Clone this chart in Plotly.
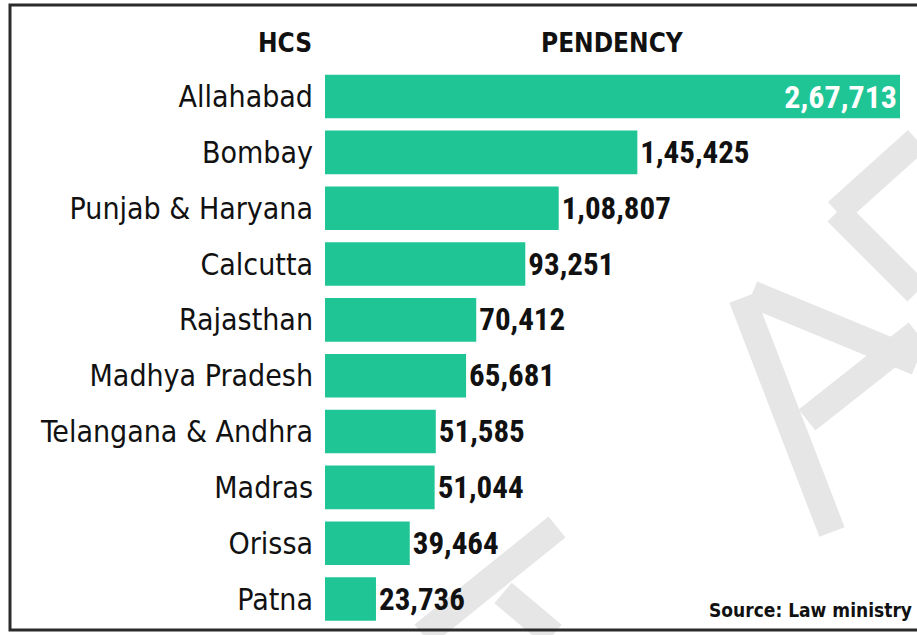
import plotly.graph_objects as go

# ---- data ----
courts = ["Allahabad", "Bombay", "Punjab & Haryana", "Calcutta", "Rajasthan",
          "Madhya Pradesh", "Telangana & Andhra", "Madras", "Orissa", "Patna"]
pendency = [267713, 145425, 108807, 93251, 70412, 65681, 51585, 51044, 39464, 23736]
header_left = "HCS"
header_right = "PENDENCY"
source_text = "Source: Law ministry"


def indian_format(n):
    s = str(n)
    if len(s) <= 3:
        return s
    last3 = s[-3:]
    rest = s[:-3]
    groups = []
    while len(rest) > 2:
        groups.insert(0, rest[-2:])
        rest = rest[:-2]
    if rest:
        groups.insert(0, rest)
    return ",".join(groups) + "," + last3


labels = [indian_format(v) for v in pendency]
positions = ["inside" if v == max(pendency) else "outside" for v in pendency]

W, H = 917, 635
BAR_COLOR = "#20c596"
LABEL_FONT = "DejaVu Sans Condensed, sans-serif"
VALUE_FONT = "Roboto Condensed, Liberation Sans Narrow, DejaVu Sans Condensed, sans-serif"

fig = go.Figure(go.Bar(
    x=pendency,
    y=courts,
    orientation="h",
    marker=dict(color=BAR_COLOR, line=dict(width=0)),
    text=labels,
    textposition=positions,
    insidetextanchor="end",
    constraintext="none",
    cliponaxis=False,
    insidetextfont=dict(family=VALUE_FONT, size=32, color="white", weight="bold"),
    outsidetextfont=dict(family=VALUE_FONT, size=31, color="#111111", weight="bold"),
    hoverinfo="skip",
))

# decorative watermark strokes (light grey), drawn under the bars
wm = [((917, 140), (837, 212)), ((837, 212), (917, 292)),
      ((742, 298), (832, 532)), ((752, 294), (917, 362)),
      ((807, 420), (917, 333)), ((557, 527), (423, 635)),
      ((503, 593), (553, 635))]
shapes = []
for (x0, y0), (x1, y1) in wm:
    shapes.append(dict(type="line", xref="paper", yref="paper",
                       x0=x0 / W, y0=1 - y0 / H, x1=x1 / W, y1=1 - y1 / H,
                       line=dict(color="#e6e6e6", width=27), layer="below"))
# border frame
shapes.append(dict(type="rect", xref="paper", yref="paper",
                   x0=10 / W, y0=1 - 630 / H, x1=1.02, y1=1 - 5 / H,
                   line=dict(color="#2b2b2b", width=3), layer="above"))

fig.update_layout(
    width=W, height=H,
    margin=dict(l=0, r=0, t=0, b=0),
    paper_bgcolor="white", plot_bgcolor="rgba(0,0,0,0)",
    showlegend=False,
    bargap=0.22,
    xaxis=dict(domain=[325 / W, 1], range=[0, 267713 * 592 / 575],
               visible=False, fixedrange=True),
    yaxis=dict(domain=[1 - 627 / H, 1 - 68.6 / H],
               categoryorder="array", categoryarray=courts,
               range=[9.5, -0.5], showgrid=False, zeroline=False,
               showline=False, ticks="outside", ticklen=5,
               tickcolor="rgba(0,0,0,0)",
               tickfont=dict(family=LABEL_FONT, size=30, color="#111111"),
               fixedrange=True),
    shapes=shapes,
    annotations=[
        dict(text=header_left, xref="paper", yref="paper",
             x=314 / W, y=1 - 43 / H, xanchor="right", yanchor="middle",
             showarrow=False,
             font=dict(family=LABEL_FONT, size=26, color="#111111", weight="bold")),
        dict(text=header_right, xref="paper", yref="paper",
             x=612 / W, y=1 - 43 / H, xanchor="center", yanchor="middle",
             showarrow=False,
             font=dict(family=LABEL_FONT, size=26, color="#111111", weight="bold")),
        dict(text=source_text, xref="paper", yref="paper",
             x=914 / W, y=1 - 610 / H, xanchor="right", yanchor="middle",
             showarrow=False,
             font=dict(family=LABEL_FONT, size=19, color="#111111", weight="bold")),
    ],
)

fig.write_html("out.html",
               config={"displayModeBar": False},
               post_script="document.body.style.margin='0';document.body.style.overflow='hidden';")
